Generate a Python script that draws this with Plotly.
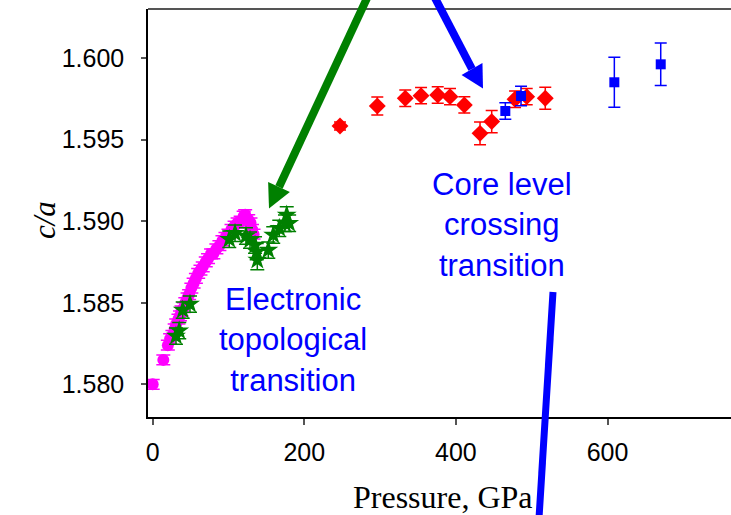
import plotly.graph_objects as go

# ---- data: c/a ratio vs pressure ----
# experiment, low pressure (magenta circles)
mag_p = [0, 14, 20, 23, 26, 29, 31, 34, 36, 38, 41, 43, 46, 48, 51, 54, 57, 60, 63, 66,
         70, 73, 77, 80, 84, 88, 92, 96, 100, 104, 108, 112, 116, 120, 122, 126, 129, 131, 133]
mag_ca = [1.5800, 1.5815, 1.5824, 1.5828, 1.5830, 1.5834, 1.5837, 1.5840, 1.5842, 1.5845,
          1.5847, 1.5850, 1.5853, 1.5855, 1.5859, 1.5862, 1.5865, 1.5868, 1.5870, 1.5872,
          1.5875, 1.5877, 1.5880, 1.5880, 1.5883, 1.5885, 1.5888, 1.5890, 1.5892, 1.5895,
          1.5897, 1.5899, 1.5900, 1.5903, 1.5904, 1.5901, 1.5899, 1.5895, 1.5892]
mag_err = [0.0003] * len(mag_p)

# experiment (green stars)
grn_p = [30.7, 35, 39.6, 49.2, 101, 108.6, 123, 128.4, 135, 137.2, 138, 152.5, 159, 167,
         174.5, 176.8, 180]
grn_ca = [1.58296, 1.58329, 1.58455, 1.58492, 1.58889, 1.58926, 1.58909, 1.58884, 1.58854,
          1.58813, 1.58762, 1.58823, 1.58915, 1.58956, 1.58987, 1.59038, 1.58987]
grn_err = [0.0005, 0.0005, 0.0005, 0.0005, 0.0005, 0.0005, 0.0005, 0.0005, 0.0005,
           0.0005, 0.0006, 0.0005, 0.0005, 0.0005, 0.0005, 0.0005, 0.0005]

# high pressure (red diamonds)
red_p = [247.1, 296.3, 333.2, 354.0, 376.0, 392.2, 411.1, 431.8, 447.2, 478.0, 493.4, 517.9]
red_ca = [1.59583, 1.59706, 1.59753, 1.59769, 1.59773, 1.59763, 1.59712, 1.59538, 1.59610,
          1.59747, 1.59763, 1.59753]
red_err = [0.00025, 0.00055, 0.0005, 0.0005, 0.0005, 0.0005, 0.0005, 0.0007, 0.00068,
           0.0005, 0.0005, 0.00067]

# highest pressure (blue squares)
blu_p = [465.2, 485.9, 609.0, 670.2]
blu_ca = [1.59675, 1.59767, 1.59851, 1.59961]
blu_err = [0.0005, 0.0006, 0.00153, 0.0013]

y_ticks = [1.580, 1.585, 1.590, 1.595, 1.600]
x_ticks = [0, 200, 400, 600]

# ---- figure geometry (pixels) ----
W, H = 731, 515
ML, MR, MT, MB = 148, 0, 9, 98
PW, PH = W - ML - MR, H - MT - MB


def fx(px):
    return (px - ML) / PW


def fy(py):
    return (H - MB - py) / PH


fig = go.Figure()


def add_series(xs, ys, errs, color, symbol, size, cap):
    fig.add_trace(go.Scatter(
        x=xs, y=ys, mode="markers",
        marker=dict(color=color, symbol=symbol, size=size, line=dict(width=0)),
        error_y=dict(type="data", array=errs, visible=True, color=color,
                     thickness=1.5, width=cap),
        showlegend=False, cliponaxis=False,
    ))


add_series(mag_p, mag_ca, mag_err, "#FF00FF", "circle", 12, 7)
add_series(grn_p, grn_ca, grn_err, "#008000", "star", 15, 7)
add_series(red_p, red_ca, red_err, "#FF0000", "diamond", 13, 6)
add_series(blu_p, blu_ca, blu_err, "#0000FF", "square", 10, 6)

# ---- arrows ----
def arrow(x0, y0, tip, base_center, half_w, color, lw):
    shapes = [dict(type="line", xref="paper", yref="paper",
                   x0=fx(x0), y0=fy(y0), x1=fx(base_center[0]), y1=fy(base_center[1]),
                   line=dict(color=color, width=lw))]
    dx, dy = tip[0] - base_center[0], tip[1] - base_center[1]
    L = (dx * dx + dy * dy) ** 0.5
    nx, ny = -dy / L, dx / L
    c1 = (base_center[0] + nx * half_w, base_center[1] + ny * half_w)
    c2 = (base_center[0] - nx * half_w, base_center[1] - ny * half_w)
    path = "M {:.5f},{:.5f} L {:.5f},{:.5f} L {:.5f},{:.5f} Z".format(
        fx(tip[0]), fy(tip[1]), fx(c1[0]), fy(c1[1]), fx(c2[0]), fy(c2[1]))
    shapes.append(dict(type="path", xref="paper", yref="paper", path=path,
                       fillcolor=color, line=dict(width=0)))
    return shapes


shapes = []
shapes += arrow(368, -4, (269, 208.5), (279, 187), 12, "#008000", 8)
shapes += arrow(434, -4, (483, 88.5), (472, 69), 12, "#0000FF", 8)
shapes.append(dict(type="line", xref="paper", yref="paper",
                   x0=fx(553), y0=fy(292), x1=fx(539), y1=fy(518),
                   line=dict(color="#0000FF", width=7)))
# top frame line
shapes.append(dict(type="line", xref="paper", yref="paper", x0=0, y0=1, x1=1, y1=1,
                   line=dict(color="#555555", width=2), layer="below"))

annotations = [
    dict(text="Electronic<br>topological<br>transition", x=fx(293), y=fy(340),
         xref="paper", yref="paper", showarrow=False, xanchor="center", yanchor="middle",
         font=dict(family="Liberation Sans, Arial", size=31, color="#0000FF")),
    dict(text="Core level<br>crossing<br>transition", x=fx(502), y=fy(225),
         xref="paper", yref="paper", showarrow=False, xanchor="center", yanchor="middle",
         font=dict(family="Liberation Sans, Arial", size=31, color="#0000FF")),
    dict(text="<i>c/a</i>", x=fx(45), y=fy(220), xref="paper", yref="paper",
         showarrow=False, textangle=-90, xanchor="center", yanchor="middle",
         font=dict(family="Liberation Serif, Times New Roman", size=31, color="black")),
    dict(text="Pressure, GPa", x=fx(443), y=fy(497), xref="paper", yref="paper",
         showarrow=False, xanchor="center", yanchor="middle",
         font=dict(family="Liberation Serif, Times New Roman", size=32, color="black")),
]

fig.update_layout(
    width=W, height=H,
    margin=dict(l=ML, r=MR, t=MT, b=MB, pad=0),
    paper_bgcolor="white", plot_bgcolor="white",
    shapes=shapes, annotations=annotations,
    font=dict(family="Liberation Sans, Arial", size=25, color="black"),
    xaxis=dict(range=[-6.2, 762.9], tickvals=x_ticks, ticks="outside", ticklen=6,
               tickwidth=1.5, tickcolor="#555555", showline=True, linecolor="black",
               linewidth=1.5, showgrid=False, zeroline=False,
               tickfont=dict(size=25), ticklabelstandoff=6),
    yaxis=dict(range=[1.578, 1.603], tickvals=y_ticks, tickformat=".3f", ticks="outside",
               ticklen=5, tickwidth=1.5, tickcolor="#555555", showline=True,
               linecolor="black", linewidth=1.5, showgrid=False, zeroline=False,
               tickfont=dict(size=25), ticklabelstandoff=12),
)

fig.write_html("out.html")
